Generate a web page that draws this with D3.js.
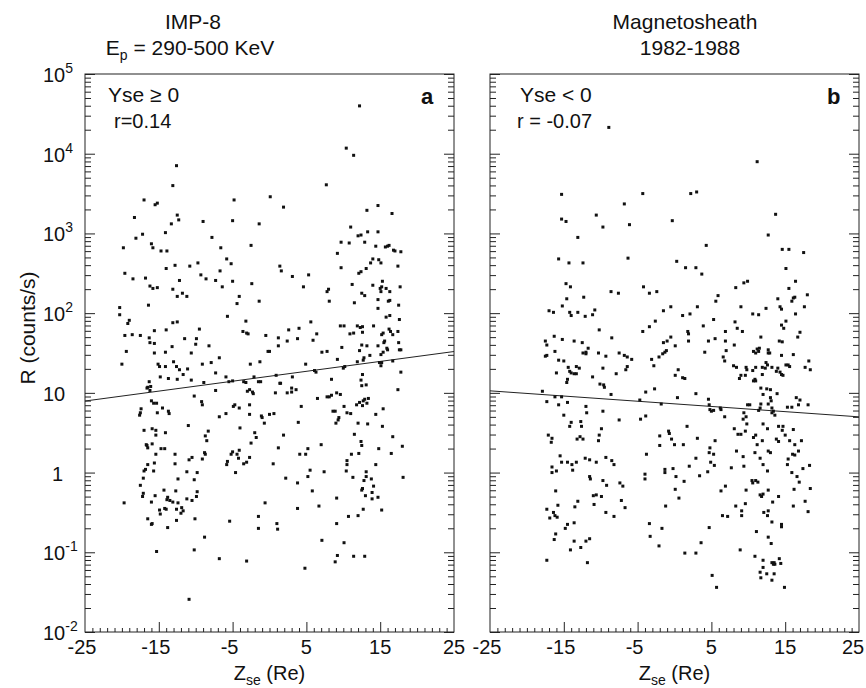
<!DOCTYPE html>
<html>
<head>
<meta charset="utf-8">
<script src="https://cdn.jsdelivr.net/npm/d3@7"></script>
<style>
  body { margin: 0; background: #fff; }
  svg text { font-family: "Liberation Sans", Arial, Helvetica, sans-serif; fill: #111; }
</style>
</head>
<body>
<div id="chart"></div>
<script>
// IMP-8 magnetosheath proton rates (290-500 keV) vs Zse, 1982-1988
// Two panels: a) Yse >= 0, b) Yse < 0

////////////////////////////////////////////////////////////////////////
// Data

// x tick labels and y decades shown on the axes
const zLabels = [-25, -15, -5, 5, 15, 25];
const decades = [-2, -1, 0, 1, 2, 3, 4, 5];

// regression lines, [Zse, R] at both ends
const fitA = [[-25, 7.9], [25, 33]];
const fitB = [[-25, 10.6], [25, 5.0]];

// points as [Zse (Re), log10 R (counts/s)]
const ptsA = [
  [12.2,4.60],[10.4,4.07],[11.4,3.98],[7.7,3.61],[-12.6,3.85],[-13.1,3.60],[-17.0,3.42],[-15.5,3.36],
  [-15.2,3.38],[-4.8,3.42],[0.1,3.46],[1.9,3.33],[-18.3,3.20],[-18.1,2.94],[-17.2,2.99],[-19.8,2.82],
  [-19.6,2.50],[-18.5,2.43],[-16.8,2.44],[-16.2,2.34],[-15.8,2.31],[-15.2,2.32],[-16.4,2.10],[-16.0,2.87],
  [-15.8,2.82],[-14.7,2.78],[-13.9,2.78],[-14.0,2.56],[-14.1,3.01],[-13.3,3.12],[-12.5,3.23],[-12.3,3.17],
  [-12.8,2.60],[-13.1,2.30],[-12.5,2.21],[-12.2,2.41],[-11.8,2.25],[-11.2,2.21],[-10.8,2.59],[-9.7,2.63],
  [-9.3,2.48],[-9.0,3.15],[-8.6,2.43],[-7.8,2.95],[-7.3,2.41],[-6.6,2.82],[-6.7,2.53],[-6.4,2.33],
  [-5.8,2.68],[-5.2,2.62],[-5.0,3.16],[-5.0,2.40],[-4.4,2.12],[-4.1,2.21],[-5.7,1.96],[-2.5,2.85],
  [-2.4,2.37],[-1.4,3.12],[-1.4,2.15],[1.4,2.59],[1.6,2.53],[3.1,2.46],[4.6,2.33],[5.3,2.48],
  [7.8,2.27],[8.0,2.30],[8.1,2.15],[9.2,2.75],[9.7,2.57],[9.7,2.89],[10.8,2.88],[11.0,3.08],
  [12.0,2.97],[12.4,2.98],[12.1,2.50],[12.4,2.52],[11.2,2.36],[12.5,2.25],[12.9,2.22],[11.5,2.13],
  [12.9,2.89],[13.1,2.56],[13.2,3.29],[13.3,3.02],[13.7,2.63],[14.0,2.68],[14.0,2.35],[14.4,2.84],
  [14.7,3.02],[14.7,3.35],[14.8,2.67],[14.7,2.17],[14.7,2.06],[15.1,2.63],[15.3,2.40],[15.0,2.31],
  [15.2,2.33],[15.1,2.27],[15.8,2.31],[16.0,2.84],[16.2,2.85],[15.7,2.83],[16.1,2.15],[16.3,2.16],
  [16.3,2.27],[16.6,3.25],[16.8,2.79],[17.0,2.78],[17.4,2.59],[17.5,2.10],[17.7,2.33],[17.8,2.77],
  [16.3,1.97],[15.8,1.95],[-20.3,2.07],[-20.3,1.98],[-19.2,1.87],[-19.0,1.91],[-19.6,1.72],[-18.6,1.73],
  [-17.5,1.72],[-19.4,1.52],[-20.0,1.36],[-15.6,1.78],[-14.0,1.79],[-13.1,1.88],[-12.5,1.89],[-16.3,1.69],
  [-16.2,1.63],[-15.6,1.62],[-15.6,1.50],[-14.1,1.51],[-13.2,1.58],[-11.5,1.68],[-13.0,1.39],[-15.1,1.36],
  [-14.9,1.33],[-14.1,1.33],[-14.8,1.20],[-12.6,1.33],[-12.2,1.29],[-13.7,1.18],[-12.5,1.17],[-11.7,1.23],
  [-11.1,1.30],[-10.6,1.16],[-10.0,1.61],[-9.9,1.68],[-10.6,1.50],[-9.5,1.80],[-9.1,1.36],[-8.2,1.59],
  [-7.9,1.38],[-8.9,1.13],[-7.3,1.25],[-6.8,1.44],[-5.9,1.20],[-5.0,1.15],[-5.5,1.14],[-3.2,1.90],
  [-3.6,1.77],[-3.1,1.75],[-2.9,1.74],[-2.6,1.36],[-3.5,1.14],[-3.2,1.13],[-2.1,1.20],[-1.3,1.39],
  [-1.2,1.14],[-0.5,1.72],[-0.2,1.52],[0.0,1.52],[1.2,1.59],[1.2,1.69],[0.9,1.22],[1.5,1.12],
  [2.4,1.65],[2.6,1.79],[3.1,1.20],[3.8,1.68],[4.0,1.81],[4.9,1.36],[5.9,1.66],[5.6,1.89],
  [6.1,1.28],[6.3,1.26],[6.4,1.74],[7.1,1.51],[7.8,1.52],[9.8,1.57],[9.2,1.42],[10.0,1.31],
  [10.2,1.33],[9.6,1.84],[10.1,1.84],[10.9,1.74],[11.4,1.75],[11.9,1.84],[12.3,1.82],[12.6,1.76],
  [12.6,1.83],[11.9,1.39],[12.2,1.53],[12.5,1.60],[12.8,1.44],[12.7,1.41],[13.2,1.59],[13.6,1.47],
  [14.1,1.84],[14.7,1.59],[15.1,1.48],[15.4,1.51],[15.2,1.73],[15.4,1.75],[15.5,1.63],[15.6,1.65],
  [16.0,1.54],[15.9,1.56],[16.2,1.80],[16.4,1.77],[16.7,1.73],[17.4,1.77],[17.6,1.92],[17.5,1.63],
  [17.6,1.54],[17.8,1.54],[14.9,1.38],[15.1,1.34],[15.2,1.38],[17.8,1.26],[16.7,1.40],[17.4,1.04],
  [18.0,0.33],[18.1,-0.06],[16.5,0.24],[16.7,0.45],[15.2,-0.47],[15.4,0.80],[15.3,0.58],[14.7,-0.31],
  [14.8,0.30],[14.4,0.10],[14.4,0.73],[14.1,-0.17],[13.9,-0.25],[13.9,-0.33],[13.8,-0.08],[13.1,0.01],
  [13.1,-0.05],[12.8,-0.10],[12.6,-0.20],[12.5,-0.22],[13.0,-0.29],[12.7,-0.46],[12.0,-0.54],[13.3,0.61],
  [12.9,0.92],[12.7,0.90],[12.6,0.84],[12.5,1.09],[12.6,1.23],[12.4,1.16],[13.1,1.10],[13.4,0.93],
  [13.2,0.87],[12.4,0.39],[12.5,0.34],[12.2,0.88],[11.8,0.85],[11.5,0.48],[11.0,0.74],[10.5,0.75],
  [12.0,0.62],[12.1,0.24],[11.1,0.23],[11.3,-0.06],[10.5,0.15],[10.5,0.10],[10.4,0.02],[10.1,0.83],
  [9.6,0.98],[9.1,1.00],[9.4,0.69],[9.3,0.66],[8.9,0.77],[8.6,0.77],[8.4,0.97],[8.4,1.17],
  [8.1,0.95],[9.0,0.62],[9.1,-0.32],[9.1,-0.64],[9.2,-1.04],[8.9,-1.12],[10.1,-0.88],[10.7,-0.55],
  [11.4,-1.05],[12.9,-1.05],[7.8,0.95],[7.4,0.01],[7.0,0.35],[6.7,-0.42],[7.1,-0.85],[6.5,0.93],
  [5.5,0.03],[5.2,-0.05],[5.8,-0.23],[5.2,0.30],[4.9,0.23],[4.1,0.23],[4.3,0.83],[3.9,0.63],
  [3.8,-0.13],[3.8,-0.45],[4.8,-1.20],[3.6,1.04],[3.0,1.06],[3.0,1.01],[2.4,1.00],[1.4,1.12],
  [0.8,1.00],[0.6,0.74],[1.2,0.31],[1.9,0.47],[2.2,-0.07],[0.5,0.11],[1.0,-0.64],[1.1,-0.71],
  [-0.6,-0.38],[-0.7,0.62],[0.0,0.73],[-1.1,0.71],[-1.0,0.69],[-2.0,0.50],[-1.8,0.44],[-2.5,0.37],
  [-2.7,0.73],[-2.7,0.85],[-3.0,1.02],[-2.7,1.04],[-2.2,0.99],[-2.3,1.01],[-1.5,1.14],[-1.5,-0.55],
  [-1.5,-0.70],[-3.1,-1.11],[-2.7,0.19],[-3.1,0.13],[-3.5,0.11],[-4.1,0.28],[-4.4,0.23],[-4.2,0.18],
  [-4.0,0.56],[-4.9,0.83],[-4.7,0.85],[-4.1,0.81],[-5.2,0.23],[-5.0,0.26],[-5.7,0.14],[-5.8,0.10],
  [-4.6,0.00],[-5.4,-0.61],[-6.8,-1.08],[-6.8,0.70],[-5.9,0.74],[-7.3,1.03],[-8.5,0.40],[-8.3,0.52],
  [-8.7,0.46],[-8.8,0.25],[-8.7,0.23],[-9.1,0.17],[-9.8,0.00],[-10.2,-0.09],[-11.2,0.01],[-10.9,0.16],
  [-10.5,0.19],[-11.0,0.59],[-10.2,0.96],[-9.2,0.89],[-9.1,0.85],[-9.8,-0.24],[-9.9,-0.30],[-10.5,-0.35],
  [-11.2,-0.33],[-11.9,-0.44],[-11.7,-0.48],[-10.1,-0.58],[-10.2,-0.97],[-8.8,-0.81],[-12.0,-0.51],[-12.4,-0.38],
  [-13.1,-0.37],[-12.6,-0.46],[-12.7,-0.23],[-12.4,-0.08],[-12.8,0.11],[-12.6,-0.60],[-13.8,-0.31],[-13.9,-0.34],
  [-13.5,-0.35],[-14.3,-0.22],[-14.2,-0.45],[-14.0,-0.46],[-14.8,-0.52],[-13.8,-0.69],[-12.8,0.23],[-13.7,0.77],
  [-13.6,0.74],[-14.5,0.81],[-14.2,0.30],[-14.7,0.30],[-14.1,0.50],[-15.2,0.75],[-15.3,0.87],[-15.7,0.87],
  [-16.0,0.90],[-16.2,1.03],[-16.1,1.08],[-16.3,1.14],[-16.5,1.07],[-16.6,1.06],[-15.4,0.53],[-15.4,0.47],
  [-15.9,0.55],[-15.9,0.36],[-15.4,0.23],[-15.6,0.12],[-15.7,0.02],[-16.7,0.35],[-16.6,0.34],[-16.5,0.31],
  [-17.0,0.53],[-17.4,0.80],[-17.5,0.75],[-17.6,0.72],[-17.1,-0.07],[-17.0,0.02],[-16.8,0.04],[-16.5,0.10],
  [-17.5,-0.16],[-17.1,-0.26],[-17.2,-0.30],[-16.0,-0.37],[-15.5,-0.29],[-16.5,-0.58],[-15.9,-0.64],[-16.0,-0.65],
  [-14.9,-0.47],[-15.3,-0.99],[-19.7,-0.38],[-10.9,-1.59]
];

const ptsB = [
  [-8.9,4.33],[11.2,3.90],[-15.3,3.49],[-4.3,3.50],[2.2,3.50],[3.0,3.52],[-6.8,3.37],[-15.3,3.18],
  [-14.7,3.15],[-10.6,3.23],[-9.7,3.08],[-6.1,3.11],[-0.3,3.16],[13.7,3.24],[12.7,2.98],[-13.1,2.95],
  [4.3,2.85],[-15.7,2.68],[-14.3,2.63],[-12.4,2.63],[-6.3,2.69],[0.3,2.65],[1.5,2.57],[2.9,2.57],
  [3.7,2.49],[14.6,2.80],[15.5,2.80],[17.5,2.76],[15.1,2.56],[-14.7,2.37],[-14.1,2.33],[-14.6,2.18],
  [-12.3,2.20],[-8.6,2.27],[-7.6,2.25],[-4.2,2.33],[-3.4,2.25],[-2.4,2.27],[5.6,2.15],[5.9,2.22],
  [8.3,2.32],[9.4,2.38],[9.9,2.40],[14.0,2.18],[15.5,2.31],[16.4,2.40],[18.0,2.23],[15.9,2.15],
  [16.1,2.19],[16.3,2.20],[14.3,2.08],[14.5,2.05],[-17.0,2.03],[-16.4,2.01],[-15.2,2.09],[-14.2,2.01],
  [-14.0,1.97],[-13.1,2.01],[-12.1,1.96],[-11.1,1.98],[-10.8,2.04],[-1.5,2.03],[-0.5,2.08],[1.1,1.97],
  [2.1,1.99],[3.1,2.08],[9.0,2.08],[10.6,1.99],[11.4,1.98],[12.4,2.06],[17.6,2.08],[16.4,1.99],
  [-17.5,1.65],[-17.3,1.60],[-17.5,1.46],[-17.3,1.47],[-16.3,1.71],[-16.2,1.52],[-16.0,1.25],[-15.2,1.67],
  [-15.7,1.41],[-15.0,1.40],[-14.6,1.13],[-14.4,1.32],[-14.2,1.27],[-14.0,1.25],[-13.6,1.24],[-13.3,1.24],
  [-14.5,1.17],[-13.3,1.33],[-12.9,1.31],[-13.6,1.65],[-12.5,1.63],[-12.4,1.50],[-12.0,1.51],[-12.0,1.49],
  [-11.7,1.56],[-10.2,1.79],[-10.3,1.50],[-9.7,1.31],[-11.1,1.20],[-10.1,1.11],[-9.6,1.10],[-9.5,1.07],
  [-9.3,1.46],[-8.5,1.69],[-8.6,0.98],[-7.9,1.24],[-7.5,1.50],[-6.8,1.47],[-6.4,1.45],[-5.8,1.42],
  [-6.4,1.33],[-6.6,1.29],[-4.3,1.77],[-3.4,1.83],[-2.6,1.90],[-3.1,1.42],[-2.8,1.34],[-2.1,1.45],
  [-1.6,1.49],[-1.3,1.51],[-1.1,1.53],[-1.5,1.63],[-1.0,1.65],[-0.5,1.70],[0.1,1.59],[0.1,1.22],
  [0.5,1.29],[1.1,1.19],[1.4,1.18],[1.8,1.77],[1.9,1.74],[1.9,1.65],[3.9,1.84],[4.1,1.51],
  [5.3,1.92],[4.6,1.65],[5.5,1.68],[6.9,1.77],[6.9,1.65],[7.0,1.53],[6.6,1.45],[6.8,1.40],
  [8.1,1.60],[8.2,1.89],[8.5,1.81],[9.2,1.77],[8.0,1.34],[8.4,1.32],[9.0,1.22],[9.6,1.22],
  [8.8,1.18],[9.7,1.32],[9.8,1.29],[10.7,1.52],[11.0,1.50],[11.4,1.52],[11.2,1.55],[11.5,1.56],
  [11.7,1.70],[12.7,1.54],[12.7,1.50],[12.9,1.50],[11.9,1.32],[12.4,1.38],[12.6,1.35],[12.3,1.31],
  [10.6,1.28],[11.0,1.32],[10.9,1.17],[10.7,1.15],[11.0,1.15],[11.9,1.23],[13.2,1.32],[13.8,1.27],
  [14.0,1.31],[14.3,1.26],[14.5,1.23],[14.7,1.22],[15.1,1.35],[15.4,1.35],[15.6,1.33],[14.5,1.47],
  [16.1,1.48],[14.2,1.65],[14.6,1.64],[14.5,1.85],[14.8,1.81],[15.1,1.90],[16.7,1.70],[17.0,1.76],
  [17.7,1.32],[18.2,1.40],[18.4,1.29],[11.7,1.06],[12.5,1.05],[13.0,1.04],[12.0,0.98],[13.0,0.94],
  [13.1,0.90],[12.7,0.86],[13.9,0.99],[13.2,0.81],[11.7,0.86],[11.6,0.81],[11.4,0.78],[9.9,0.85],
  [10.2,0.85],[9.4,0.75],[9.7,0.70],[13.2,0.75],[13.4,0.77],[13.6,0.72],[12.0,0.61],[12.6,0.55],
  [14.1,0.58],[14.6,0.53],[14.7,0.58],[15.3,0.82],[15.9,0.82],[16.5,0.94],[17.0,0.91],[16.8,0.85],
  [18.1,0.85],[9.3,0.67],[9.8,0.61],[8.1,0.55],[8.6,0.48],[9.0,0.48],[9.6,0.52],[10.7,0.44],
  [11.0,0.47],[11.9,0.40],[11.2,0.35],[13.8,0.42],[14.1,0.39],[15.0,0.47],[16.1,0.54],[15.6,0.40],
  [16.3,0.35],[17.2,0.40],[16.8,0.27],[16.0,0.23],[16.3,0.22],[15.4,0.17],[15.3,0.10],[15.9,0.00],
  [16.6,-0.05],[16.9,-0.12],[16.2,-0.21],[18.3,0.09],[17.4,0.05],[18.4,-0.20],[17.7,-0.36],[18.1,-0.49],
  [16.1,-0.42],[12.7,0.27],[13.0,0.25],[12.6,0.02],[12.0,0.10],[11.6,0.18],[10.9,0.25],[11.3,-0.12],
  [11.0,-0.10],[10.6,-0.13],[10.5,-0.10],[9.4,0.08],[9.3,0.20],[8.4,0.27],[9.7,-0.22],[9.6,-0.39],
  [11.6,-0.28],[11.8,-0.30],[12.0,-0.27],[12.7,-0.22],[13.3,-0.37],[14.1,-0.30],[7.7,0.06],[6.9,-0.17],
  [6.3,-0.23],[8.3,-0.42],[9.1,-0.48],[9.1,-0.54],[6.5,-0.54],[7.2,-0.55],[12.1,-0.50],[12.7,-0.48],
  [12.6,-0.54],[13.2,-0.62],[14.5,-0.65],[14.5,-0.68],[11.1,-0.74],[12.7,-0.81],[13.1,-0.89],[8.9,-0.97],
  [10.9,-1.05],[12.0,-1.10],[13.2,-1.13],[13.5,-1.13],[13.4,-1.15],[13.6,-1.15],[14.2,-1.08],[14.4,-1.14],
  [12.0,-1.19],[11.6,-1.25],[12.5,-1.27],[13.5,-1.27],[5.1,-1.29],[4.7,-0.69],[5.5,0.40],[5.3,0.23],
  [4.8,0.31],[4.7,0.25],[4.9,0.13],[5.4,0.09],[4.5,0.01],[3.4,-0.04],[2.9,0.18],[2.0,0.08],
  [3.1,0.43],[1.3,-0.11],[0.6,-0.32],[0.1,-0.21],[-0.2,0.05],[0.2,-0.05],[1.2,0.35],[0.0,0.35],
  [-0.4,0.42],[-0.8,0.52],[-0.7,0.49],[-2.0,0.46],[-2.0,0.34],[-1.3,0.04],[-1.3,0.00],[-1.2,-0.42],
  [-3.8,0.23],[-4.0,-0.02],[-4.0,-0.08],[-4.6,0.67],[-3.9,0.71],[1.7,0.58],[4.8,0.79],[5.0,0.77],
  [5.3,0.78],[6.3,0.79],[6.2,0.81],[6.8,0.70],[4.6,0.92],[4.7,0.85],[2.9,0.99],[0.4,0.94],
  [-1.8,0.86],[-4.7,0.91],[-3.9,1.01],[-2.7,1.05],[-7.5,0.66],[-9.7,0.77],[-10.2,0.47],[-10.3,0.40],
  [-9.9,0.55],[-12.0,0.83],[-11.9,0.75],[-12.7,0.64],[-12.6,0.58],[-14.0,0.63],[-14.2,0.58],[-15.0,0.72],
  [-15.7,0.85],[-14.5,0.88],[-16.2,0.95],[-15.3,0.95],[-17.3,0.89],[-17.9,1.02],[-17.1,0.47],[-16.7,0.38],
  [-16.6,0.43],[-13.2,0.42],[-12.8,0.45],[-12.4,0.42],[-15.5,0.21],[-15.3,0.13],[-14.5,0.13],[-13.9,0.10],
  [-13.8,0.03],[-13.3,0.13],[-12.1,0.18],[-11.5,0.16],[-10.6,0.13],[-9.3,0.19],[-8.5,0.15],[-8.2,0.10],
  [-16.6,0.07],[-16.6,0.00],[-16.0,0.02],[-11.5,-0.05],[-11.4,-0.08],[-9.7,-0.10],[-9.2,-0.16],[-7.4,-0.13],
  [-7.0,-0.17],[-16.1,-0.23],[-11.0,-0.29],[-10.6,-0.28],[-9.9,-0.30],[-10.9,-0.40],[-13.1,-0.36],[-13.5,-0.43],
  [-17.3,-0.46],[-16.9,-0.57],[-16.4,-0.50],[-16.2,-0.54],[-15.9,-0.56],[-15.8,-0.41],[-7.2,-0.35],[-6.7,-0.44],
  [-9.3,-0.50],[-8.2,-0.55],[-14.5,-0.65],[-14.8,-0.70],[-13.6,-0.63],[-16.1,-0.77],[-16.3,-0.84],[-13.6,-0.86],
  [-14.1,-0.97],[-12.7,-0.94],[-12.0,-0.86],[-11.5,-0.83],[-17.3,-1.10],[-11.8,-1.13],[-3.4,-0.64],[-3.3,-0.80],
  [-1.7,-0.70],[-2.1,-0.92],[1.4,-1.01],[2.9,-1.01],[3.6,-0.88],[5.7,-1.44],[11.7,-1.32],[13.2,-1.35],
  [14.9,-1.44]
];

////////////////////////////////////////////////////////////////////////
// Layout

const width = 866, height = 688;
const plotTop = 74, plotBottom = 632;

const panels = [
  { x0: 85,  x1: 454, pts: ptsA, fit: fitA, sel: "Yse \u2265 0", r: "r=0.14",   tag: "a",
    selX: 108, rX: 114, tagX: 421 },
  { x0: 490, x1: 859, pts: ptsB, fit: fitB, sel: "Yse < 0",      r: "r = -0.07", tag: "b",
    selX: 520, rX: 517, tagX: 827 }
];

const svg = d3.select("#chart")
  .append("svg")
  .attr("width", width)
  .attr("height", height);

// shared y scale (log)
const yScale = d3.scaleLog()
  .domain([1e-2, 1e5])
  .range([plotBottom, plotTop]);

const allY = yScale.ticks();
const majorY = allY.filter(v => Math.abs(Math.log10(v) - Math.round(Math.log10(v))) < 1e-9);
const minorY = allY.filter(v => !majorY.includes(v));

// draw both panels
panels.forEach(function(p, pi) {
  let xScale = d3.scaleLinear().domain([-25, 25]).range([p.x0, p.x1]);
  let g = svg.append("g");

  // y ticks, left and right, pointing inward
  function yTicks(axisFn, xPos, vals, len) {
    g.append("g")
      .attr("transform", "translate(" + xPos + ",0)")
      .call(axisFn(yScale).tickValues(vals).tickSize(-len).tickFormat(""))
      .call(s => s.select(".domain").remove())
      .selectAll("line").attr("stroke", "#222");
  }
  yTicks(d3.axisLeft,  p.x0, minorY, 6);
  yTicks(d3.axisLeft,  p.x0, majorY, 10);
  yTicks(d3.axisRight, p.x1, minorY, 6);
  yTicks(d3.axisRight, p.x1, majorY, 10);

  // x ticks: minor every 1 Re, major at the labelled values
  let minorX = d3.range(-24, 25, 1).filter(v => !zLabels.includes(v));
  g.append("g")
    .attr("transform", "translate(0," + plotBottom + ")")
    .call(d3.axisBottom(xScale).tickValues(minorX).tickSize(-4).tickFormat(""))
    .call(s => s.select(".domain").remove())
    .selectAll("line").attr("stroke", "#222");
  g.append("g")
    .attr("transform", "translate(0," + plotBottom + ")")
    .call(d3.axisBottom(xScale).tickValues(zLabels.filter(v => Math.abs(v) < 25))
          .tickSize(-10).tickFormat(""))
    .call(s => s.select(".domain").remove())
    .selectAll("line").attr("stroke", "#222");

  // frame
  g.append("rect")
    .attr("x", p.x0).attr("y", plotTop)
    .attr("width", p.x1 - p.x0).attr("height", plotBottom - plotTop)
    .attr("fill", "none").attr("stroke", "#222").attr("stroke-width", 1);

  // x tick labels (last one on the right pulled in so it stays on the page)
  g.selectAll(".xlab")
    .data(zLabels).enter()
    .append("text")
    .attr("x", function(d) {
      let x = xScale(d) - (d < 0 ? 3 : 0);
      if (pi === 1 && d === 25) x -= 6;
      return x;
    })
    .attr("y", plotBottom + 22)
    .attr("text-anchor", "middle")
    .style("font-size", "20px")
    .text(d => d);

  // x title
  let xt = g.append("text")
    .attr("x", (p.x0 + p.x1) / 2)
    .attr("y", 680)
    .attr("text-anchor", "middle")
    .style("font-size", "20px");
  xt.append("tspan").text("Z");
  xt.append("tspan").attr("dy", 5).style("font-size", "14px").text("se");
  xt.append("tspan").attr("dy", -5).text(" (Re)");

  // regression line
  g.append("path")
    .datum(p.fit)
    .attr("d", d3.line().x(d => xScale(d[0])).y(d => yScale(d[1])))
    .attr("fill", "none")
    .attr("stroke", "#222")
    .attr("stroke-width", 1);

  // points
  g.append("g")
    .selectAll("rect")
    .data(p.pts).enter()
    .append("rect")
    .attr("x", d => xScale(d[0]) - 1.5)
    .attr("y", d => yScale(Math.pow(10, d[1])) - 1.5)
    .attr("width", 3)
    .attr("height", 3)
    .attr("fill", "#111");

  // panel annotations
  g.append("text").attr("x", p.selX).attr("y", 102)
    .style("font-size", "21px").text(p.sel);
  g.append("text").attr("x", p.rX).attr("y", 128)
    .style("font-size", "20px").text(p.r);
  g.append("text").attr("x", p.tagX).attr("y", 104)
    .style("font-size", "22px").style("font-weight", "bold").text(p.tag);
});

// y tick labels (left panel only)
let yl = svg.append("g");
decades.forEach(function(n) {
  let t = yl.append("text")
    .attr("y", yScale(Math.pow(10, n)) + 8)
    .style("font-size", "20px");
  if (n === 0) {
    t.attr("x", 52).text("1");
  } else if (n === 1) {
    t.attr("x", 43).text("10");
  } else {
    t.attr("x", 43).text("10");
    t.append("tspan").attr("dy", -9).style("font-size", "14px").text(n);
  }
});

// y axis title
svg.append("text")
  .attr("transform", "translate(35,328) rotate(-90)")
  .attr("text-anchor", "middle")
  .style("font-size", "21px")
  .text("R (counts/s)");

// header text
svg.append("text").attr("x", 193).attr("y", 29)
  .attr("text-anchor", "middle").style("font-size", "21px").text("IMP-8");
let eA = svg.append("text").attr("x", 190).attr("y", 55)
  .attr("text-anchor", "middle").style("font-size", "21px");
eA.append("tspan").text("E");
eA.append("tspan").attr("dy", 5).style("font-size", "14px").text("p");
eA.append("tspan").attr("dy", -5).text(" = 290-500 KeV");

svg.append("text").attr("x", 685).attr("y", 29)
  .attr("text-anchor", "middle").style("font-size", "21px").text("Magnetosheath");
svg.append("text").attr("x", 690).attr("y", 55)
  .attr("text-anchor", "middle").style("font-size", "21px").text("1982-1988");
</script>
</body>
</html>
